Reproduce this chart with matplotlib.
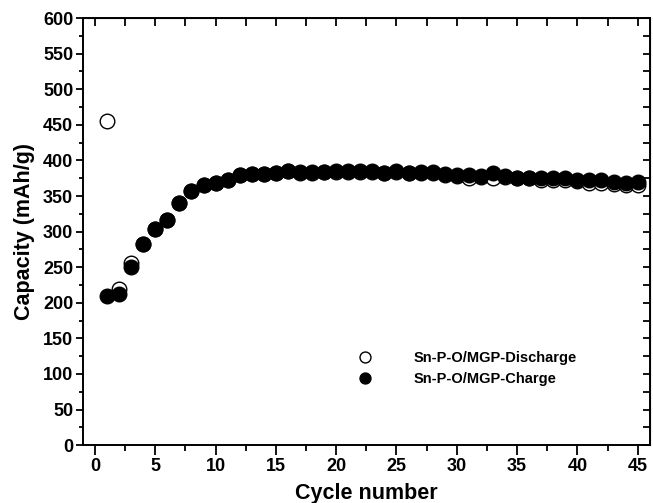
import matplotlib
matplotlib.use('Agg')
import matplotlib.pyplot as plt
from matplotlib.ticker import MultipleLocator
import numpy as np

# capacity vs cycle, Sn-P-O/MGP electrode
cycles = np.arange(1, 46)

discharge = [455, 220, 256, 283, 303, 317, 340, 357, 366, 368,
             372, 380, 381, 381, 382, 385, 383, 383, 384, 384,
             384, 384, 384, 382, 384, 382, 383, 383, 380, 378,
             375, 377, 376, 377, 375, 375, 373, 373, 372, 371,
             368, 368, 367, 366, 365]

charge = [210, 213, 250, 283, 303, 317, 340, 357, 366, 368,
          372, 380, 381, 381, 382, 385, 384, 384, 384, 385,
          385, 385, 385, 383, 385, 383, 384, 384, 381, 380,
          379, 378, 382, 378, 376, 376, 375, 376, 375, 373,
          372, 372, 370, 369, 370]

plt.rcParams['font.family'] = ['Liberation Sans', 'DejaVu Sans']
plt.rcParams['font.weight'] = 'bold'

fig = plt.figure(figsize=(6.53, 5.03), dpi=100)
ax = fig.add_axes([0.127, 0.115, 0.868, 0.849])

ax.plot(cycles, discharge, 'o', ms=10.5, mfc='white', mec='black', mew=1.0,
        label='Sn-P-O/MGP-Discharge')
ax.plot(cycles, charge, 'o', ms=10.5, mfc='black', mec='black',
        label='Sn-P-O/MGP-Charge')

ax.set_xlim(-1, 46)
ax.set_ylim(0, 600)
ax.xaxis.set_major_locator(MultipleLocator(5))
ax.xaxis.set_minor_locator(MultipleLocator(2.5))
ax.yaxis.set_major_locator(MultipleLocator(50))
ax.yaxis.set_minor_locator(MultipleLocator(25))

ax.tick_params(which='both', direction='out', width=1.3, labelsize=13)
ax.tick_params(axis='x', which='major', length=7.5, pad=1.5)
ax.tick_params(axis='x', which='minor', length=4)
ax.tick_params(axis='y', which='major', length=5, pad=2)
ax.tick_params(axis='y', which='minor', length=3)

# inward ticks on top and right, no labels
axt = ax.secondary_xaxis('top')
axt.xaxis.set_major_locator(MultipleLocator(5))
axt.xaxis.set_minor_locator(MultipleLocator(2.5))
axt.tick_params(which='both', direction='in', width=1.3, length=5.5,
                labeltop=False)
axr = ax.secondary_yaxis('right')
axr.yaxis.set_major_locator(MultipleLocator(50))
axr.yaxis.set_minor_locator(MultipleLocator(25))
axr.tick_params(which='both', direction='in', width=1.3, length=5,
                labelright=False)

for s in ax.spines.values():
    s.set_linewidth(1.4)

ax.set_xlabel('Cycle number', fontsize=15.5, fontweight='bold', labelpad=6)
ax.set_ylabel('Capacity (mAh/g)', fontsize=15.5, fontweight='bold',
              labelpad=6)

ax.legend(loc='upper left', bbox_to_anchor=(0.461, 0.251), frameon=False,
          fontsize=10.5, markerscale=0.75, handlelength=1.0,
          handletextpad=2.85, labelspacing=0.45)

plt.savefig('out.png', dpi=100)
